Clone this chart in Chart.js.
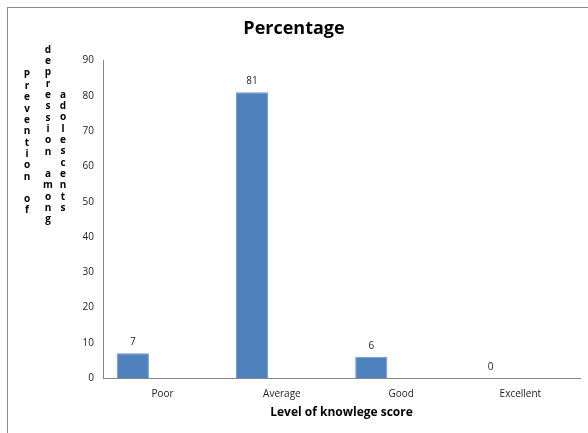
<!DOCTYPE html>
<html>
<head>
<meta charset="utf-8">
<script src="https://cdn.jsdelivr.net/npm/chart.js@4/dist/chart.umd.min.js"></script>
<style>
  body { margin: 0; background: #fff; }
  .frame {
    position: absolute; left: 7px; top: 7px;
    width: 581px; height: 426px;
    border-left: 1px solid #8c8c8c; border-top: 1px solid #8c8c8c;
  }
  canvas { position: absolute; left: 0; top: 0; }
</style>
</head>
<body>
<div class="frame"><canvas id="chart" width="580" height="425"></canvas></div>
<script>
const categories = ['Poor', 'Average', 'Good', 'Excellent'];
const percentage = [7, 81, 6, 0];
const emptySeries = [null, null, null, null];
const yTitleLines = ['Prevention of', 'depression among', 'adolescents'];
const chartTitle = 'Percentage';
const xTitle = 'Level of knowlege score';

// stacked vertical y axis title, one letter per line, like the original
const stackedTitle = {
    id: 'stackedTitle',
    afterDraw(chart) {
        const ctx = chart.ctx;
        const colX = [19, 40, 55];
        const colY = [67, 42, 87];
        const step = 11.3;
        ctx.save();
        ctx.font = 'bold 10px "Open Sans"';
        ctx.fillStyle = '#000';
        ctx.textAlign = 'center';
        ctx.textBaseline = 'middle';
        yTitleLines.forEach((line, i) => {
            line.split('').forEach((ch, j) => {
                ctx.fillText(ch, colX[i], colY[i] + j * step);
            });
        });
        ctx.restore();
    }
};

const valueLabels = {
    id: 'valueLabels',
    afterDatasetsDraw(chart) {
        const ctx = chart.ctx;
        const meta = chart.getDatasetMeta(0);
        ctx.save();
        ctx.font = '10px "Open Sans"';
        ctx.fillStyle = '#262626';
        ctx.textAlign = 'center';
        ctx.textBaseline = 'middle';
        meta.data.forEach((bar, i) => {
            ctx.fillText(String(percentage[i]), bar.x, bar.y - 11);
        });
        ctx.restore();
    }
};

new Chart(document.getElementById('chart'), {
    type: 'bar',
    data: {
        labels: categories,
        datasets: [{
            label: 'Percentage',
            data: percentage,
            backgroundColor: '#4f81bd',
            borderColor: '#6f97c8',
            borderWidth: 1,
            categoryPercentage: 1,
            barPercentage: 0.54
        }, {
            label: '',
            data: emptySeries,
            backgroundColor: '#c0504d',
            categoryPercentage: 1,
            barPercentage: 0.54
        }]
    },
    options: {
        responsive: false,
        animation: false,
        layout: { padding: { left: 0, right: 8, top: 0, bottom: 0 } },
        plugins: {
            legend: { display: false },
            tooltip: { enabled: false },
            title: {
                display: true,
                text: chartTitle,
                color: '#000',
                font: { family: 'Open Sans', size: 18, weight: 'bold' },
                padding: { top: 10, bottom: 21 }
            }
        },
        scales: {
            x: {
                grid: { display: false, drawTicks: false },
                border: { display: true, color: '#868686' },
                ticks: { color: '#222', font: { family: 'Open Sans', size: 10 }, padding: 10 },
                title: {
                    display: true,
                    text: xTitle,
                    color: '#000',
                    font: { family: 'Open Sans', size: 12, weight: 'bold' },
                    padding: { top: 0, bottom: 13 }
                },
                afterFit(scale) { scale.height = 55; }
            },
            y: {
                min: 0,
                max: 90,
                grid: { display: false, drawTicks: false },
                border: { display: true, color: '#868686' },
                ticks: { stepSize: 10, color: '#222', font: { family: 'Open Sans', size: 10 }, padding: 9 },
                afterFit(scale) { scale.width = 95; }
            }
        }
    },
    plugins: [stackedTitle, valueLabels]
});
</script>
</body>
</html>
